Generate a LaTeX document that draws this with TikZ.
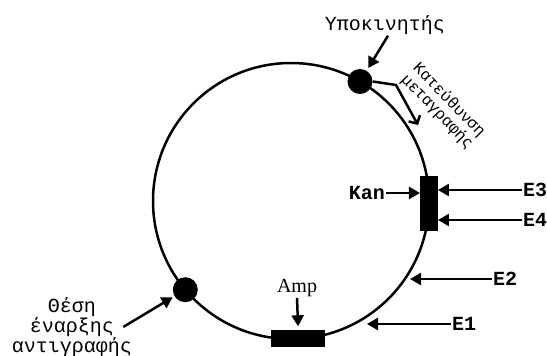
\documentclass[tikz,border=0pt]{standalone}
\usepackage{fontspec}
\newfontfamily\labelmono{Liberation Mono}
\newfontfamily\labelserif{Liberation Serif}
\usetikzlibrary{arrows.meta,positioning,calc}
\tikzset{
  plasmidring/.style={draw,circle,line width=2.5pt,minimum size=276pt,inner sep=0pt,outer sep=0pt},
  sitedot/.style={circle,fill=black,minimum size=25pt,inner sep=0pt},
  genebox/.style={fill=black,inner sep=0pt,outer sep=0pt},
  marklabel/.style={font=\labelmono\fontsize{20}{17.5}\selectfont,inner sep=1pt,align=center},
  elabel/.style={font=\labelmono\bfseries\fontsize{20}{20}\selectfont,inner sep=1pt},
  dirlabel/.style={font=\labelmono\fontsize{16}{16.5}\selectfont,inner sep=0pt,align=center},
  pointarrow/.style={-{Triangle[length=11pt,width=12pt]},line width=2.5pt},
  barbarrow/.style={-{Straight Barb[length=6pt,width=13pt]},line width=2.5pt}
}

\begin{document}
\begin{tikzpicture}[x=1pt,y=-1pt]
  \useasboundingbox (0,0) rectangle (547,356);
  % plasmid and the sites on it
  \node[plasmidring] (plasmid) at (291,201) {};
  \node[sitedot] (prom) at (plasmid.60) {};
  \node[sitedot] (ori) at (plasmid.220) {};
  \node[genebox,minimum width=18pt,minimum height=55pt] (kan) at (plasmid.-1.7) {};
  \node[genebox,minimum width=54pt,minimum height=17pt] (amp) at (plasmid.-87.5) {};
  % labels
  \node[marklabel] (promlbl) at (385,25) {Υποκινητής};
  \node[dirlabel,rotate=-46] (dirlbl) at (443,106) {Κατεύθυνση\\μεταγραφής};
  \node[marklabel] (orilbl) at (72,327) {Θέση\\έναρξης\\αντιγραφής};
  \node[elabel] (kanlbl) at (367,193) {Kan};
  \node[font=\labelserif\fontsize{20}{20}\selectfont,inner sep=1pt] (amplbl) at (297,288) {Amp};
  \node[elabel] (e3) at (535,190) {E3};
  \node[elabel] (e4) at (535,220) {E4};
  \node[elabel] (e2) at (505,279) {E2};
  \node[elabel] (e1) at (464,324) {E1};
  \coordinate (bend) at (396,85);
  \coordinate (e2tip) at (410,279);
  \coordinate (e1tip) at (367,324);
  % arrows
  \draw[pointarrow,shorten >=3pt] ([xshift=3pt]promlbl.south) -- (prom);
  \draw[barbarrow] (prom.east) -- (bend) -- (418,125);
  \draw[pointarrow,shorten >=2pt] ([xshift=-10pt]orilbl.east) -- (ori);
  \draw[pointarrow] (kanlbl.east) -- (kanlbl.east -| kan.west);
  \draw[pointarrow,shorten >=4pt] (amplbl.south) -- (amp.north);
  \draw[pointarrow] (e3.west) -- (e3.west -| kan.east);
  \draw[pointarrow] (e4.west) -- (e4.west -| kan.east);
  \draw[pointarrow] (e2.west) -- (e2tip);
  \draw[pointarrow] (e1.west) -- (e1tip);
\end{tikzpicture}
\end{document}
